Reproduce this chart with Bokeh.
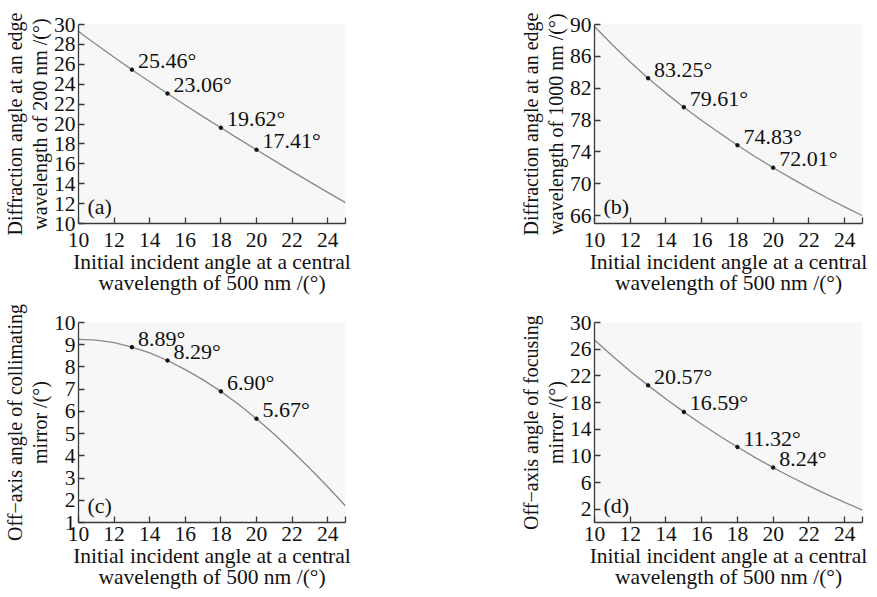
from bokeh.plotting import figure
from bokeh.layouts import column, row
from bokeh.models import FixedTicker, Label, Range1d
from bokeh.core.properties import value
from bokeh.embed import file_html
from bokeh.resources import INLINE

# ---------------- data ----------------
X = [10, 11, 12, 13, 14, 15, 16, 17, 18, 19, 20, 21, 22, 23, 24, 25]
A_Y = [29.30, 27.99, 26.71, 25.46, 24.25, 23.06, 21.89, 20.74, 19.62, 18.51,
       17.41, 16.32, 15.24, 14.18, 13.13, 12.10]
B_Y = [89.75, 87.45, 85.28, 83.25, 81.38, 79.61, 77.95, 76.36, 74.83, 73.39,
       72.01, 70.70, 69.44, 68.24, 67.08, 65.97]
C_Y = [9.24, 9.21, 9.09, 8.89, 8.63, 8.29, 7.88, 7.42, 6.90, 6.31,
       5.67, 4.97, 4.22, 3.43, 2.61, 1.74]
D_Y = [27.36, 24.96, 22.69, 20.57, 18.53, 16.59, 14.73, 12.97, 11.32, 9.74,
       8.24, 6.82, 5.49, 4.23, 3.02, 1.87]

MARK_X = [13, 15, 18, 20]
A_MARK = [25.46, 23.06, 19.62, 17.41]
B_MARK = [83.25, 79.61, 74.83, 72.01]
C_MARK = [8.89, 8.29, 6.90, 5.67]
D_MARK = [20.57, 16.59, 11.32, 8.24]

X_TICKS = [10, 12, 14, 16, 18, 20, 22, 24, 25]
A_TICKS = [10, 12, 14, 16, 18, 20, 22, 24, 26, 28, 30]
B_TICKS = [66, 70, 74, 78, 82, 86, 90]
C_TICKS = [1, 2, 3, 4, 5, 6, 7, 8, 9, 10]
D_TICKS = [2, 6, 10, 14, 18, 22, 26, 30]

X_LABEL = "Initial incident angle at a central\nwavelength of 500 nm /(°)"
A_LABEL = "Diffraction angle at an edge\nwavelength of 200 nm /(°)"
B_LABEL = "Diffraction angle at an edge\nwavelength of 1000 nm /(°)"
C_LABEL = "Off\u2212axis angle of collimating\nmirror /(°)"
D_LABEL = "Off\u2212axis angle of focusing\nmirror /(°)"

FONT = "Liberation Serif"
TXT = "#111111"
AXC = "#3a3a3a"


def panel(ys, marks, yr, yticks, ylabel, letter, width, height,
          bl, br, bt, bb, xstand):
    p = figure(width=width, height=height, output_backend="svg",
               toolbar_location=None,
               x_range=Range1d(10, 25), y_range=Range1d(*yr),
               min_border_left=bl, min_border_right=br,
               min_border_top=bt, min_border_bottom=bb)
    p.outline_line_color = None
    p.grid.visible = False
    p.background_fill_color = "#f7f7f7"
    p.border_fill_color = "white"

    p.line(X, ys, line_color="#888888", line_width=1.3)
    p.scatter(MARK_X, marks, size=3.5, color="#111111")
    p.text(MARK_X, marks, text=[f"{v:.2f}°" for v in marks],
           x_offset=6, y_offset=-9, text_baseline="middle", text_align="left",
           text_font=value(FONT), text_font_size="22px", text_color=TXT)

    p.add_layout(Label(x=10, y=yr[0], x_offset=9, y_offset=5, text=letter,
                       text_font=FONT, text_font_size="22px", text_color=TXT,
                       text_baseline="bottom"))

    p.xaxis.ticker = FixedTicker(ticks=X_TICKS)
    p.xaxis.major_label_overrides = {25: ""}
    p.yaxis.ticker = FixedTicker(ticks=yticks)
    p.xaxis.axis_label = X_LABEL
    p.yaxis.axis_label = ylabel
    for ax in (p.xaxis, p.yaxis):
        ax.axis_line_color = AXC
        ax.axis_line_width = 1.3
        ax.major_tick_line_color = AXC
        ax.major_tick_line_width = 1.3
        ax.major_tick_in = 6
        ax.major_tick_out = 0
        ax.minor_tick_line_color = None
        ax.major_label_text_font = FONT
        ax.major_label_text_font_size = "21.5px"
        ax.major_label_text_color = TXT
        ax.axis_label_text_font = FONT
        ax.axis_label_text_font_style = "normal"
        ax.axis_label_text_color = TXT
        ax.axis_label_standoff = 0
    p.xaxis.axis_label_text_font_size = "21.5px"
    p.xaxis.axis_label_text_line_height = 0.9
    p.yaxis.axis_label_text_font_size = "20px"
    p.yaxis.axis_label_text_line_height = 1.13
    p.xaxis.major_label_standoff = xstand
    p.yaxis.major_label_standoff = 3
    return p


pa = panel(A_Y, A_MARK, (10, 30), A_TICKS, A_LABEL, "(a)", 438, 298, 78, 93, 24, 74, 9)
pb = panel(B_Y, B_MARK, (65, 90), B_TICKS, B_LABEL, "(b)", 439, 298, 156, 15, 24, 74, 9)
pc = panel(C_Y, C_MARK, (1, 10), C_TICKS, C_LABEL, "(c)", 438, 299, 78, 93, 24, 75, 4)
pd = panel(D_Y, D_MARK, (0, 30), D_TICKS, D_LABEL, "(d)", 439, 299, 156, 15, 24, 75, 4)

layout = column(row(pa, pb), row(pc, pd))

open("out.html", "w").write(file_html(layout, INLINE))
